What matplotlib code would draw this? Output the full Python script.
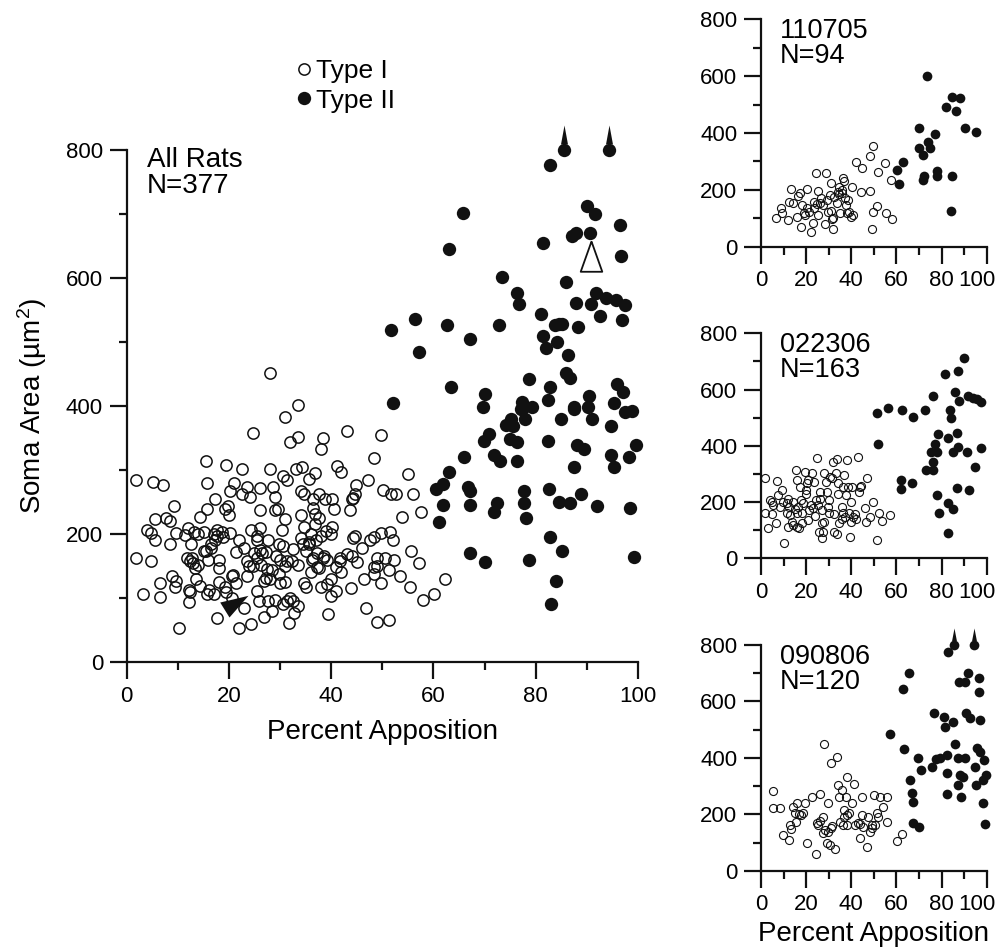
import numpy as np
import matplotlib
matplotlib.use('Agg')
import matplotlib.pyplot as plt
from matplotlib.ticker import MultipleLocator
from matplotlib.transforms import ScaledTranslation

plt.rcParams['font.family'] = ['Liberation Sans', 'DejaVu Sans']
plt.rcParams['mathtext.fontset'] = 'custom'
plt.rcParams['mathtext.rm'] = 'Liberation Sans'
plt.rcParams['mathtext.it'] = 'Liberation Sans:italic'

# Rat 110705 (N=94)
r1_t1_x = [6.6, 8.9, 9.5, 12.1, 12.4, 13.1, 14.0, 15.8, 16.5, 17.3, 17.6, 18.0, 19.2, 20.2, 20.5,
           21.4, 22.0, 22.9, 23.6, 24.2, 24.7, 25.4, 25.4, 26.2, 28.4, 29.0, 29.2, 29.9, 30.6, 30.9,
           31.3, 31.8, 32.0, 32.5, 33.5, 34.0, 34.7, 35.0, 35.7, 36.5, 36.9, 37.2, 37.7, 38.0, 39.1,
           39.9, 40.2, 40.9, 42.0, 44.3, 44.9, 48.3, 48.4, 49.0, 49.8, 49.8, 51.3, 51.7, 55.1, 55.4,
           57.6, 57.9, 23.5, 27.5, 34.5, 36.0, 38.5, 31.0, 19.5, 26.5]
r1_t1_y = [102, 135, 117, 94, 158, 203, 152, 106, 178, 190, 68, 147, 117, 202, 135,
           123, 53, 84, 158, 258, 150, 197, 111, 152, 80, 258, 166, 123, 182, 223,
           96, 61, 100, 176, 152, 194, 211, 117, 188, 240, 231, 170, 147, 117, 122,
           103, 211, 111, 297, 194, 276, 319, 196, 63, 354, 123, 143, 262, 293, 117,
           235, 97, 135, 145, 185, 200, 165, 125, 110, 170]
r1_t2_x = [60.4, 61.0, 63.0, 70.0, 69.9, 71.9, 72.4, 71.9, 73.4, 74.2, 74.9, 77.1, 77.8, 77.8,
           82.0, 84.5, 84.5, 84.0, 86.3, 88.2, 90.4, 95.3]
r1_t2_y = [270, 219, 297, 419, 346, 323, 249, 235, 601, 370, 348, 395, 267, 249,
           490, 528, 250, 127, 479, 524, 416, 405]

# Rat 022306 (N=163)
r2_t1_x = [1.8, 1.8, 3.2, 4.0, 4.7, 4.7, 5.5, 6.6, 7.2, 7.7, 8.4, 9.2, 9.6, 10.2, 11.4, 11.7,
           12.1, 12.6, 12.9, 13.6, 14.3, 15.1, 15.5, 15.8, 16.1, 16.5, 17.0, 17.3, 17.7, 18.0,
           18.8, 19.5, 19.9, 20.2, 20.7, 21.0, 21.4, 22.5, 22.9, 23.5, 24.4, 24.7, 25.4, 25.8,
           26.1, 26.9, 26.9, 27.2, 27.6, 28.1, 28.7, 29.1, 29.8, 30.3, 30.6, 31.3, 32.0, 32.3,
           32.5, 33.1, 33.5, 33.5, 34.0, 34.7, 35.7, 36.2, 36.5, 36.9, 37.2, 37.7, 38.3, 38.7,
           39.1, 39.4, 39.9, 40.2, 40.9, 41.7, 43.1, 43.6, 44.2, 46.1, 46.5, 47.1, 48.3, 49.8,
           51.3, 52.3, 53.5, 57.2, 14.0, 16.0, 18.0, 20.0, 22.0, 24.0, 26.0, 28.0, 30.0, 34.0,
           36.0, 40.0, 42.0, 44.0, 12.0]
r2_t1_y = [284, 162, 107, 207, 201, 158, 190, 124, 276, 225, 184, 243, 201, 53, 198, 162,
           113, 184, 154, 130, 119, 174, 314, 279, 113, 184, 107, 255, 207, 160,
           196, 308, 243, 267, 136, 279, 172, 302, 178, 273, 207, 358, 190, 95,
           237, 71, 127, 172, 95, 302, 273, 237, 184, 207, 290, 284, 344, 158,
           95, 302, 352, 87, 267, 124, 184, 160, 255, 296, 148, 225, 350, 255,
           160, 75, 130, 255, 148, 158, 361, 237, 257, 178, 130, 284, 148, 201,
           65, 160, 134, 154, 200, 160, 125, 230, 190, 150, 210, 130, 160, 230,
           140, 200, 140, 255, 210]
r2_t2_x = [51.6, 52.0, 56.3, 62.6, 61.9, 61.9, 67.1, 67.2, 72.8, 73.0, 76.4, 75.2, 76.4, 76.4,
           77.3, 77.9, 78.6, 78.1, 78.7, 81.5, 82.7, 82.7, 83.0, 83.7, 84.2, 85.0, 85.2, 86.0,
           86.7, 86.7, 87.1, 87.4, 87.9, 90.1, 91.1, 92.0, 91.7, 93.8, 94.8, 95.6, 97.5, 97.5]
r2_t2_y = [518, 405, 536, 527, 278, 246, 267, 504, 527, 314, 577, 379, 344, 314,
           407, 379, 442, 225, 160, 655, 429, 196, 91, 527, 500, 379, 174, 593,
           444, 249, 666, 395, 561, 713, 379, 243, 577, 569, 324, 565, 557, 391]

# Rat 090806 (N=120)
r3_t1_x = [5.2, 5.5, 8.4, 9.6, 12.3, 12.8, 13.3, 14.3, 15.1, 15.5, 15.8, 17.7, 18.6, 19.3, 20.5,
           22.5, 24.4, 24.9, 25.4, 26.1, 27.3, 27.6, 28.1, 28.4, 29.1, 29.5, 29.8, 30.6, 31.0,
           31.3, 32.8, 33.5, 34.3, 34.7, 35.0, 35.7, 36.5, 36.9, 37.7, 38.0, 38.0, 38.3, 40.5,
           41.2, 41.7, 43.1, 43.8, 44.6, 44.6, 45.1, 46.8, 47.6, 48.3, 49.0, 50.1, 50.5, 51.5,
           52.7, 53.9, 55.7, 56.0, 60.1, 62.3, 26.0, 37.0, 44.0, 49.0, 31.0, 17.0, 39.0, 52.0]
r3_t1_y = [282, 223, 221, 126, 109, 162, 147, 227, 203, 174, 239, 197, 203, 239, 100,
           262, 59, 170, 162, 272, 132, 191, 451, 144, 97, 239, 138, 91, 383,
           158, 76, 402, 304, 262, 174, 286, 162, 215, 262, 333, 197, 162, 239,
           307, 162, 168, 115, 197, 262, 156, 85, 191, 138, 162, 268, 162, 203,
           262, 227, 174, 262, 106, 130, 175, 190, 165, 150, 150, 200, 205, 190]
r3_t2_x = [57.2, 63.1, 63.4, 65.7, 66.0, 66.8, 67.2, 67.2, 69.7, 70.1, 70.8, 75.6, 76.7, 77.4,
           79.3, 81.1, 81.5, 82.3, 82.3, 82.6, 82.7, 85.2, 85.5, 85.9, 87.4, 87.9, 87.4, 88.1,
           88.8, 89.5, 90.3, 90.6, 90.8, 91.6, 92.5, 94.4, 94.8, 95.3, 95.9, 96.5, 96.6, 96.9,
           97.0, 98.2, 98.5, 98.8, 99.3, 99.7]
r3_t2_y = [484, 646, 430, 702, 321, 274, 245, 170, 398, 156, 357, 369, 560, 395,
           398, 544, 510, 410, 345, 271, 776, 528, 800, 451, 398, 670, 304, 339,
           262, 333, 398, 670, 560, 700, 540, 800, 369, 304, 434, 682, 635, 534,
           422, 321, 241, 392, 164, 339]

rats = [('110705', 'N=94', r1_t1_x, r1_t1_y, r1_t2_x, r1_t2_y),
        ('022306', 'N=163', r2_t1_x, r2_t1_y, r2_t2_x, r2_t2_y),
        ('090806', 'N=120', r3_t1_x, r3_t1_y, r3_t2_x, r3_t2_y)]

# example cells marked in the pooled plot
type1_example = (17.6, 68)
type2_example = (90.8, 672)
y_max = 800

all_t1_x = np.concatenate([r[2] for r in rats])
all_t1_y = np.concatenate([r[3] for r in rats])
all_t2_x = np.concatenate([r[4] for r in rats])
all_t2_y = np.concatenate([r[5] for r in rats])

TICK_FS = 16
LABEL_FS = 20
BLACK = '#111111'


def style_axes(ax):
    ax.set_xlim(0, 100)
    ax.set_ylim(0, y_max)
    for s in ['top', 'right']:
        ax.spines[s].set_visible(False)
    for s in ['left', 'bottom']:
        ax.spines[s].set_linewidth(1.6)
        ax.spines[s].set_color(BLACK)
    ax.xaxis.set_major_locator(MultipleLocator(20))
    ax.xaxis.set_minor_locator(MultipleLocator(10))
    ax.yaxis.set_major_locator(MultipleLocator(200))
    ax.yaxis.set_minor_locator(MultipleLocator(100))
    ax.tick_params(which='major', direction='out', length=12, width=1.6,
                   labelsize=TICK_FS, color=BLACK, pad=5)
    ax.tick_params(which='minor', direction='out', length=6, width=1.6, color=BLACK)


# arrow marker for cells larger than the axis range
up_arrow = [(-3.5, 6), (3.5, 6), (0, 25), (-3.5, 6)]
up_arrow_small = [(-2.5, 4), (2.5, 4), (0, 17), (-2.5, 4)]

fig = plt.figure(figsize=(10.03, 9.51), dpi=100)

# pooled data
ax = fig.add_axes([0.1263, 0.3039, 0.5098, 0.5384])
style_axes(ax)
h1, = ax.plot(all_t1_x, all_t1_y, 'o', ms=8.1, mfc='none', mec=BLACK, mew=1.1,
              clip_on=False, label='Type I')
h2, = ax.plot(all_t2_x, all_t2_y, 'o', ms=9.6, mfc=BLACK, mec='none',
              clip_on=False, label='Type II')
big = all_t2_y >= y_max
ax.plot(all_t2_x[big], all_t2_y[big], ls='none', marker=up_arrow, ms=36,
        mfc=BLACK, mec='none', clip_on=False)

# example markers
ax.plot(type2_example[0], type2_example[1] - 15, ls='none',
        marker=[(0, 0), (-10.8, -30.3), (10.8, -30.3), (0, 0)], ms=43.6,
        mfc='white', mec=BLACK, mew=1.3, clip_on=False)
ax.plot(type1_example[0] + 2.5, type1_example[1] + 3, ls='none',
        marker=[(0, 0), (-9.3, 15), (19, 21.7), (0, 0)], ms=31.2,
        mfc=BLACK, mec='none', clip_on=False)

ax.text(0.039, 0.9675, 'All Rats', transform=ax.transAxes, fontsize=LABEL_FS, va='baseline')
ax.text(0.039, 0.916, 'N=377', transform=ax.transAxes, fontsize=LABEL_FS, va='baseline')
ax.set_xlabel('Percent Apposition', fontsize=LABEL_FS, labelpad=9)
ax.set_ylabel('Soma Area (µm$^{2}$)', fontsize=LABEL_FS, labelpad=12)

fig.legend(handles=[h1, h2], loc='center left', bbox_to_anchor=(0.2951, 0.9096),
           frameon=False, fontsize=19, handlelength=0.6, handletextpad=0.15,
           borderpad=0, borderaxespad=0, labelspacing=0.2, markerscale=1.0)

# individual rats
positions = [[0.7587, 0.7406, 0.2250, 0.2391],
             [0.7587, 0.4129, 0.2250, 0.2366],
             [0.7587, 0.0844, 0.2250, 0.2373]]
subs = []
for pos, (name, n_label, t1x, t1y, t2x, t2y) in zip(positions, rats):
    sub = fig.add_axes(pos)
    style_axes(sub)
    sub.plot(t1x, t1y, 'o', ms=5.8, mfc='none', mec=BLACK, mew=0.8, clip_on=False)
    sub.plot(t2x, t2y, 'o', ms=7.0, mfc=BLACK, mec='none', clip_on=False)
    t2x = np.array(t2x)
    t2y = np.array(t2y)
    big = t2y >= y_max
    if big.any():
        sub.plot(t2x[big], t2y[big], ls='none', marker=up_arrow_small, ms=24.5,
                 mfc=BLACK, mec='none', clip_on=False)
    sub.text(0.084, 0.917, name, transform=sub.transAxes, fontsize=19.5, va='baseline')
    sub.text(0.084, 0.806, n_label, transform=sub.transAxes, fontsize=19.5, va='baseline')
    subs.append(sub)

sub.set_xlabel('Percent Apposition', fontsize=LABEL_FS, labelpad=4)

# nudge the "100" labels of the small panels so they stay inside the figure
fig.canvas.draw()
shift = ScaledTranslation(-7 / 72, 0, fig.dpi_scale_trans)
for sub in subs:
    for lab in sub.get_xticklabels():
        if lab.get_text() == '100':
            lab.set_transform(lab.get_transform() + shift)

fig.savefig('out.png', dpi=100)
